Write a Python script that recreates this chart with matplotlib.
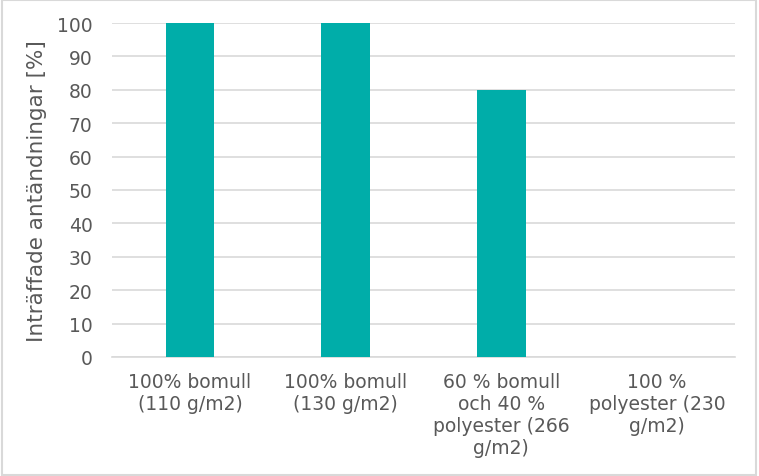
import matplotlib.pyplot as plt
import matplotlib.patches as patches

### Data

categories = ['100% bomull\n(110 g/m2)', '100% bomull\n(130 g/m2)',
              '60 % bomull\noch 40 %\npolyester (266\ng/m2)', '100 %\npolyester (230\ng/m2)']
values = [100, 100, 80, 0]
y_ticks = [0, 10, 20, 30, 40, 50, 60, 70, 80, 90, 100]
y_label = 'Inträffade antändningar [%]'

### Style

bar_color = '#00ADA9'
text_color = '#595959'
grid_color = '#D9D9D9'

plt.rcParams['font.family'] = ['DejaVu Sans']

fig = plt.figure(figsize=(7.59, 4.77), dpi=100)
ax = fig.add_axes([112 / 759, 1 - 358 / 477, (735 - 112) / 759, (358 - 24) / 477])

x = range(len(categories))
ax.bar(x, values, width=0.31, color=bar_color, zorder=3)

ax.set_xlim(-0.5, len(categories) - 0.5)
ax.set_ylim(0, 100)
ax.set_yticks(y_ticks)
ax.set_xticks(list(x))
ax.set_xticklabels(categories, fontsize=13.5, color=text_color, linespacing=1.2)
ax.tick_params(axis='y', labelsize=13.5, labelcolor=text_color, length=0, pad=14)
ax.tick_params(axis='x', length=0, pad=11)
ax.yaxis.grid(True, color=grid_color, linewidth=1.2, zorder=0)
for s in ['top', 'right', 'left']:
    ax.spines[s].set_visible(False)
ax.spines['bottom'].set_color(grid_color)
ax.spines['bottom'].set_linewidth(1.2)
ax.set_ylabel(y_label, fontsize=15.5, color=text_color, labelpad=7)

# chart border
fig.patches.append(patches.Rectangle((0.002, 0.003), 0.994, 0.994, transform=fig.transFigure,
                                     fill=False, edgecolor='#D9D9D9', linewidth=1.5))

fig.savefig('out.png', dpi=100)
